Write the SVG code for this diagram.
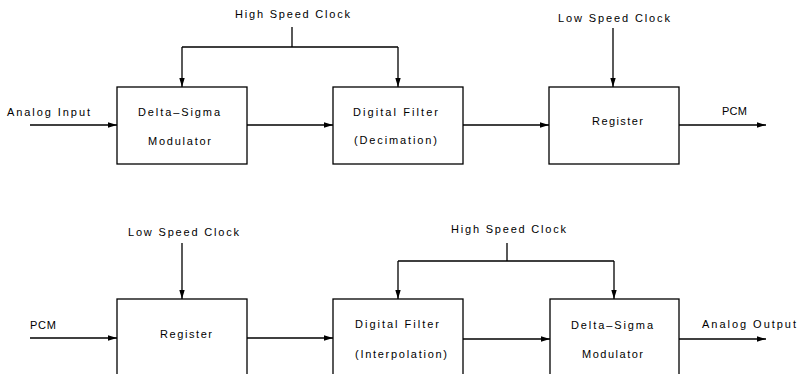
<svg xmlns="http://www.w3.org/2000/svg" width="797" height="374" viewBox="0 0 797 374">
  <style>
    .box { fill: none; stroke: #000; stroke-width: 1.3; }
    .wire { fill: none; stroke: #000; stroke-width: 1.3; }
    .arrow { marker-end: url(#head); }
    text { font-family: "Liberation Sans", "DejaVu Sans", sans-serif; font-size: 11px; fill: #000; }
  </style>
  <defs>
    <marker id="head" viewBox="0 0 10 6" refX="10" refY="3" markerWidth="9" markerHeight="5.4" markerUnits="userSpaceOnUse" orient="auto">
      <path d="M0,0 L10,3 L0,6 Z" fill="#000"/>
    </marker>
  </defs>
  <rect width="797" height="374" fill="#fff"/>

  <!-- encoder chain: analog to PCM -->
  <g id="enc-modulator">
    <rect class="box" x="117" y="87" width="130" height="77"/>
    <text x="138" y="116" textLength="82" lengthAdjust="spacing">Delta–Sigma</text>
    <text x="148" y="145" textLength="63" lengthAdjust="spacing">Modulator</text>
  </g>
  <g id="enc-filter">
    <rect class="box" x="333" y="87" width="130" height="77"/>
    <text x="353" y="116" textLength="85" lengthAdjust="spacing">Digital  Filter</text>
    <text x="354" y="144" textLength="83" lengthAdjust="spacing">(Decimation)</text>
  </g>
  <g id="enc-register">
    <rect class="box" x="549" y="87" width="130" height="77"/>
    <text x="592" y="125" textLength="51" lengthAdjust="spacing">Register</text>
  </g>

  <!-- decoder chain: PCM to analog -->
  <g id="dec-register">
    <rect class="box" x="117" y="299" width="130" height="90"/>
    <text x="160" y="338" textLength="52" lengthAdjust="spacing">Register</text>
  </g>
  <g id="dec-filter">
    <rect class="box" x="333" y="299" width="130" height="90"/>
    <text x="355" y="328" textLength="84" lengthAdjust="spacing">Digital  Filter</text>
    <text x="355" y="358" textLength="92" lengthAdjust="spacing">(Interpolation)</text>
  </g>
  <g id="dec-modulator">
    <rect class="box" x="550" y="299" width="129" height="90"/>
    <text x="571" y="329" textLength="82" lengthAdjust="spacing">Delta–Sigma</text>
    <text x="582" y="358" textLength="61" lengthAdjust="spacing">Modulator</text>
  </g>

  <!-- signal and clock labels -->
  <g id="labels">
    <text x="235" y="18" textLength="115" lengthAdjust="spacing">High  Speed  Clock</text>
    <text x="558" y="22" textLength="112" lengthAdjust="spacing">Low  Speed  Clock</text>
    <text x="7" y="116" textLength="83" lengthAdjust="spacing">Analog  Input</text>
    <text x="722" y="115" textLength="25" lengthAdjust="spacing">PCM</text>
    <text x="128" y="236" textLength="111" lengthAdjust="spacing">Low  Speed  Clock</text>
    <text x="451" y="233" textLength="115" lengthAdjust="spacing">High  Speed  Clock</text>
    <text x="30" y="329" textLength="26" lengthAdjust="spacing">PCM</text>
    <text x="702" y="328" textLength="94" lengthAdjust="spacing">Analog  Output</text>
  </g>

  <g id="connectors">
    <!-- encoder clocks -->
    <path class="wire" d="M292,27 V47 M182,47 H398"/>
    <path class="wire arrow" d="M182,47 V87"/>
    <path class="wire arrow" d="M398,47 V87"/>
    <path class="wire arrow" d="M613,28 V87"/>
    <!-- encoder signal path -->
    <path class="wire arrow" d="M30,125 H117"/>
    <path class="wire arrow" d="M247,125 H333"/>
    <path class="wire arrow" d="M463,125 H549"/>
    <path class="wire arrow" d="M679,125 H766"/>
    <!-- decoder clocks -->
    <path class="wire arrow" d="M182,243 V299"/>
    <path class="wire" d="M507,243 V261 M398,261 H614"/>
    <path class="wire arrow" d="M398,261 V299"/>
    <path class="wire arrow" d="M614,261 V299"/>
    <!-- decoder signal path -->
    <path class="wire arrow" d="M30,338 H117"/>
    <path class="wire arrow" d="M247,338 H333"/>
    <path class="wire arrow" d="M463,339 H550"/>
    <path class="wire arrow" d="M679,339 H766"/>
  </g>
</svg>
